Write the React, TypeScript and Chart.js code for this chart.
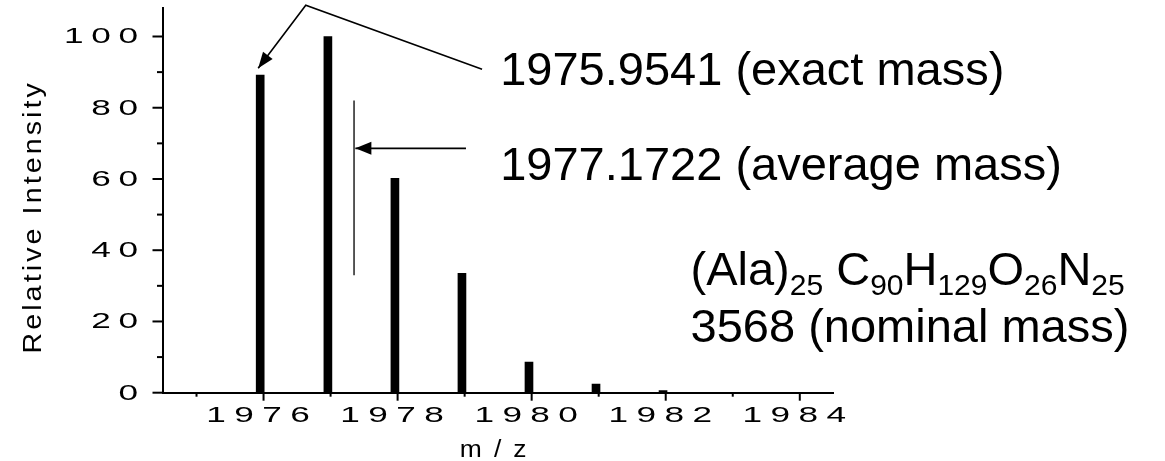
import React, { useEffect, useRef } from "react";
import { Chart, registerables } from "chart.js";

Chart.register(...registerables);

// ---------- data ----------
const peakMasses = [1975.95, 1976.96, 1977.96, 1978.96, 1979.96, 1980.96, 1981.96];
const peakIntensities = [89.2, 100, 60.2, 33.5, 8.6, 2.4, 0.6];

const xMajorTicks = [1976, 1978, 1980, 1982, 1984];
const xMinorTicks = [1975, 1977, 1979, 1981, 1983];
const yMajorTicks = [0, 20, 40, 60, 80, 100];
const yMinorTicks = [10, 30, 50, 70, 90];

// average-mass marker line and arrows (data units)
const averageMarkerX = [1977.35, 1977.35];
const averageMarkerY = [82, 33];
const averageArrowX = [1979.02, 1977.37];
const averageArrowY = [68.6, 68.6];
const exactArrowX = [1979.26, 1976.63, 1975.92];
const exactArrowY = [90.8, 108.8, 91.1];

const exactMassText = "1975.9541 (exact mass)";
const averageMassText = "1977.1722 (average mass)";
const nominalMassText = "3568 (nominal mass)";
const formulaParts: [string, boolean][] = [
  ["(Ala)", false],
  ["25", true],
  [" ", false],
  ["C", false],
  ["90", true],
  ["H", false],
  ["129", true],
  ["O", false],
  ["26", true],
  ["N", false],
  ["25", true],
];
const yAxisTitle = "Relative Intensity";
const xAxisTitle = "m/z";

// ---------- presentation ----------
const FONT = '"Liberation Sans", Arial, sans-serif';
const X_MIN = 1974.5;
const X_MAX = 1984.5;
const Y_MIN = 0;
const Y_MAX = 108;

const textAnchors = {
  exact: { x: 1979.53, y: 86.4 },
  average: { x: 1979.53, y: 59.7 },
  formula: { x: 1982.37, y: 30.2 },
  nominal: { x: 1982.37, y: 14.2 },
};

function drawSpaced(
  ctx: CanvasRenderingContext2D,
  text: string,
  x: number,
  y: number,
  size: number,
  stretch: number,
  spacing: number,
  align: "left" | "center" | "right"
) {
  ctx.font = `${size}px ${FONT}`;
  ctx.textAlign = "left";
  ctx.textBaseline = "alphabetic";
  const chars = Array.from(text);
  const widths = chars.map((c) => ctx.measureText(c).width * stretch);
  const total = widths.reduce((a, b) => a + b, 0) + spacing * (chars.length - 1);
  let pos = align === "left" ? x : align === "center" ? x - total / 2 : x - total;
  chars.forEach((c, i) => {
    ctx.save();
    ctx.translate(pos, y);
    ctx.scale(stretch, 1);
    ctx.fillText(c, 0, 0);
    ctx.restore();
    pos += widths[i] + spacing;
  });
}

function arrowHead(
  ctx: CanvasRenderingContext2D,
  fx: number,
  fy: number,
  tx: number,
  ty: number,
  len: number,
  half: number
) {
  const a = Math.atan2(ty - fy, tx - fx);
  const bx = tx - len * Math.cos(a);
  const by = ty - len * Math.sin(a);
  ctx.beginPath();
  ctx.moveTo(tx, ty);
  ctx.lineTo(bx + half * Math.sin(a), by - half * Math.cos(a));
  ctx.lineTo(bx - half * Math.sin(a), by + half * Math.cos(a));
  ctx.closePath();
  ctx.fill();
}

const decorPlugin = {
  id: "decor",
  afterDraw(chart: any) {
    const ctx: CanvasRenderingContext2D = chart.ctx;
    const xs = chart.scales.x;
    const ys = chart.scales.y;
    const area = chart.chartArea;
    ctx.save();
    ctx.fillStyle = "#000";
    ctx.strokeStyle = "#000";
    ctx.lineWidth = 2;
    ctx.lineCap = "butt";

    // x tick marks
    const xb = area.bottom;
    xMajorTicks.forEach((v) => {
      const px = xs.getPixelForValue(v);
      ctx.beginPath();
      ctx.moveTo(px, xb);
      ctx.lineTo(px, xb + 8);
      ctx.stroke();
    });
    xMinorTicks.forEach((v) => {
      const px = xs.getPixelForValue(v);
      ctx.beginPath();
      ctx.moveTo(px, xb);
      ctx.lineTo(px, xb + 4);
      ctx.stroke();
    });
    // y tick marks
    const yl = area.left;
    yMajorTicks.forEach((v) => {
      const py = ys.getPixelForValue(v);
      ctx.beginPath();
      ctx.moveTo(yl, py);
      ctx.lineTo(yl - 10.5, py);
      ctx.stroke();
    });
    yMinorTicks.forEach((v) => {
      const py = ys.getPixelForValue(v);
      ctx.beginPath();
      ctx.moveTo(yl, py);
      ctx.lineTo(yl - 6, py);
      ctx.stroke();
    });

    // tick labels
    xMajorTicks.forEach((v) => {
      const px = xs.getPixelForValue(v);
      drawSpaced(ctx, String(v), px - 5.5, xb + 29, 22, 1.6, 8.4, "center");
    });
    yMajorTicks.forEach((v) => {
      const py = ys.getPixelForValue(v);
      drawSpaced(ctx, String(v), yl - 25, py + 7, 22, 1.6, 7.6, "right");
    });

    // axis titles
    drawSpaced(ctx, xAxisTitle, (area.left + area.right) / 2 - 5, 457, 23, 1.15, 12, "center");
    ctx.save();
    ctx.translate(41, (area.top + area.bottom) / 2 + 18);
    ctx.rotate(-Math.PI / 2);
    drawSpaced(ctx, yAxisTitle, 0, 0, 26, 1.1, 3.1, "center");
    ctx.restore();

    // arrowheads
    const ea = exactArrowX.length - 1;
    arrowHead(
      ctx,
      xs.getPixelForValue(exactArrowX[ea - 1]),
      ys.getPixelForValue(exactArrowY[ea - 1]),
      xs.getPixelForValue(exactArrowX[ea]),
      ys.getPixelForValue(exactArrowY[ea]),
      16,
      6
    );
    arrowHead(
      ctx,
      xs.getPixelForValue(averageArrowX[0]),
      ys.getPixelForValue(averageArrowY[0]),
      xs.getPixelForValue(averageArrowX[1]),
      ys.getPixelForValue(averageArrowY[1]),
      16,
      6.5
    );

    // annotation texts
    ctx.textAlign = "left";
    ctx.textBaseline = "alphabetic";
    ctx.font = `47px ${FONT}`;
    ctx.fillText(exactMassText, xs.getPixelForValue(textAnchors.exact.x), ys.getPixelForValue(textAnchors.exact.y));
    ctx.fillText(averageMassText, xs.getPixelForValue(textAnchors.average.x), ys.getPixelForValue(textAnchors.average.y));
    ctx.fillText(nominalMassText, xs.getPixelForValue(textAnchors.nominal.x), ys.getPixelForValue(textAnchors.nominal.y));

    let fx = xs.getPixelForValue(textAnchors.formula.x);
    const fy = ys.getPixelForValue(textAnchors.formula.y);
    formulaParts.forEach(([t, sub]) => {
      ctx.font = sub ? `30px ${FONT}` : `47px ${FONT}`;
      ctx.fillText(t, fx, sub ? fy + 10 : fy);
      fx += ctx.measureText(t).width;
    });

    ctx.restore();
  },
};

export default function App() {
  const ref = useRef<HTMLCanvasElement | null>(null);

  useEffect(() => {
    if (!ref.current) return;
    const lineStyle = {
      type: "line" as const,
      borderColor: "#000",
      pointRadius: 0,
      fill: false,
      clip: false as any,
      tension: 0,
    };
    const chart = new Chart(ref.current, {
      type: "bar",
      data: {
        datasets: [
          {
            type: "bar",
            data: peakMasses.map((m, i) => ({ x: m, y: peakIntensities[i] })),
            backgroundColor: "#000",
            borderWidth: 0,
            barThickness: 8,
          } as any,
          {
            ...lineStyle,
            data: averageMarkerX.map((x, i) => ({ x, y: averageMarkerY[i] })),
            borderWidth: 1.3,
          } as any,
          {
            ...lineStyle,
            data: averageArrowX.map((x, i) => ({ x, y: averageArrowY[i] })),
            borderWidth: 1.6,
          } as any,
          {
            ...lineStyle,
            data: exactArrowX.map((x, i) => ({ x, y: exactArrowY[i] })),
            borderWidth: 1.6,
          } as any,
        ],
      },
      options: {
        animation: false,
        responsive: false,
        maintainAspectRatio: false,
        layout: { padding: { left: 163, right: 331.7, top: 8, bottom: 68.3 } },
        plugins: { legend: { display: false }, tooltip: { enabled: false } },
        scales: {
          x: {
            type: "linear",
            offset: false,
            min: X_MIN,
            max: X_MAX,
            grid: { display: false, drawTicks: false, offset: false },
            ticks: { display: false },
            border: { display: true, color: "#000", width: 2 },
          },
          y: {
            type: "linear",
            min: Y_MIN,
            max: Y_MAX,
            grid: { display: false, drawTicks: false },
            ticks: { display: false },
            border: { display: true, color: "#000", width: 2 },
          },
        },
      },
      plugins: [decorPlugin],
    });
    return () => chart.destroy();
  }, []);

  return (
    <div style={{ position: "fixed", left: 0, top: 0, width: 1165, height: 461, background: "#fff" }}>
      <canvas ref={ref} width={1165} height={461} style={{ display: "block", width: 1165, height: 461 }} />
    </div>
  );
}
